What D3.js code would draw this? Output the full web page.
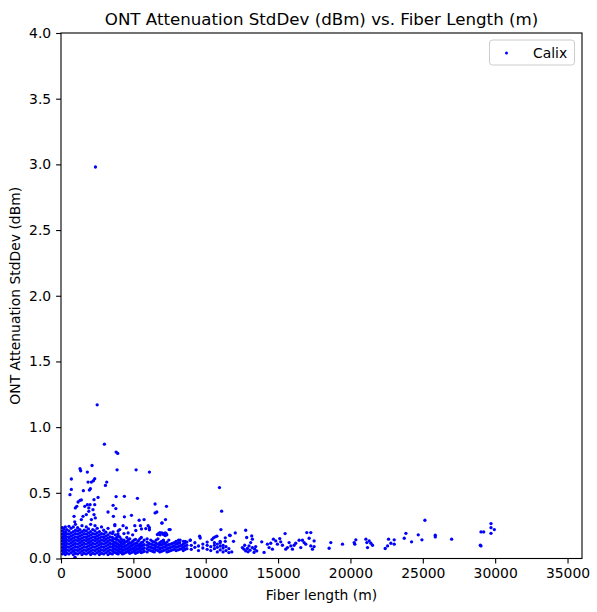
<!DOCTYPE html>
<html>
<head>
<meta charset="utf-8">
<script src="https://cdn.jsdelivr.net/npm/d3@7"></script>
<style>
  body { margin: 0; background: #fff; }
  text { font-family: "DejaVu Sans", sans-serif; fill: #000; }
</style>
</head>
<body>
<svg id="chart"></svg>
<script>
// Serie og akser
const seriesName = "Calix";
const xTicks = [0, 5000, 10000, 15000, 20000, 25000, 30000, 35000];
const yTicks = [0.0, 0.5, 1.0, 1.5, 2.0, 2.5, 3.0, 3.5, 4.0];

// Tæt klump ved korte fibre: [fiberlængde, [stddev-værdier]]
const denseColumns = [
  [100, [0.035,0.06,0.085,0.11,0.135,0.16,0.185,0.21,0.235]],
  [200, [0.045,0.07,0.095,0.12,0.145,0.17,0.195,0.225]],
  [300, [0.03,0.055,0.08,0.105,0.13,0.155,0.18,0.205,0.24]],
  [400, [0.04,0.065,0.09,0.115,0.14,0.165,0.19,0.22]],
  [550, [0.035,0.06,0.085,0.11,0.135,0.16,0.185,0.21,0.245]],
  [700, [0.045,0.07,0.095,0.12,0.145,0.17,0.195,0.23]],
  [850, [0.03,0.055,0.08,0.105,0.13,0.155,0.18,0.205,0.24]],
  [1000, [0.04,0.065,0.09,0.115,0.14,0.165,0.19,0.215,0.26]],
  [1150, [0.035,0.06,0.085,0.11,0.135,0.16,0.185,0.21,0.235]],
  [1300, [0.045,0.07,0.095,0.12,0.145,0.17,0.195,0.22]],
  [1450, [0.03,0.055,0.08,0.105,0.13,0.155,0.18,0.205,0.25]],
  [1600, [0.04,0.065,0.09,0.115,0.14,0.165,0.19,0.215]],
  [1750, [0.035,0.06,0.085,0.11,0.135,0.16,0.185,0.21,0.24]],
  [1900, [0.045,0.07,0.095,0.12,0.145,0.17,0.195,0.225]],
  [2050, [0.03,0.055,0.08,0.105,0.13,0.155,0.18,0.205,0.26]],
  [2200, [0.04,0.065,0.09,0.115,0.14,0.165,0.19,0.22]],
  [2350, [0.035,0.06,0.085,0.11,0.135,0.16,0.185,0.21,0.25]],
  [2500, [0.045,0.07,0.095,0.12,0.145,0.17,0.195,0.23]],
  [2650, [0.03,0.055,0.08,0.105,0.13,0.155,0.18,0.205]],
  [2800, [0.04,0.065,0.09,0.115,0.14,0.165,0.19,0.24]],
  [2950, [0.035,0.06,0.085,0.11,0.135,0.16,0.185,0.215]],
  [3100, [0.045,0.07,0.095,0.12,0.145,0.17,0.2]],
  [3250, [0.03,0.055,0.08,0.105,0.13,0.155,0.18,0.23]],
  [3400, [0.04,0.065,0.09,0.115,0.14,0.165,0.195]],
  [3550, [0.035,0.06,0.085,0.11,0.135,0.16,0.19]],
  [3650, [0.05,0.075,0.1,0.125,0.15]],
  [3750, [0.045,0.07,0.095,0.12,0.15,0.18]],
  [3850, [0.04,0.065,0.09,0.115,0.14,0.16]],
  [3950, [0.035,0.06,0.085,0.11,0.14,0.17,0.21]],
  [4050, [0.05,0.075,0.1,0.13,0.165]],
  [4150, [0.045,0.07,0.095,0.12,0.15]],
  [4250, [0.035,0.06,0.085,0.11,0.135]],
  [4350, [0.04,0.065,0.09,0.115,0.14,0.19]],
  [4450, [0.045,0.07,0.095,0.125]],
  [4550, [0.05,0.075,0.1,0.13,0.16]],
  [4650, [0.055,0.08,0.11,0.14]],
  [4750, [0.04,0.065,0.09,0.12,0.15]],
  [4850, [0.045,0.07,0.095,0.115]],
  [4950, [0.05,0.075,0.1,0.13,0.18]],
  [5050, [0.055,0.08,0.11,0.14]],
  [5150, [0.04,0.065,0.09,0.115,0.145]],
  [5250, [0.045,0.07,0.095,0.12]],
  [5350, [0.05,0.075,0.1,0.135]],
  [5450, [0.055,0.085,0.11,0.15]],
  [5550, [0.045,0.07,0.095,0.12,0.16]],
  [5650, [0.05,0.075,0.1,0.125]],
  [5750, [0.055,0.08,0.105,0.14]]
];

// Båndet ved mellemlange fibre
const bandColumns = [
  [5950, [0.05,0.075,0.1,0.125,0.15]],
  [6075, [0.065,0.09,0.115]],
  [6200, [0.06,0.085,0.11,0.14]],
  [6325, [0.055,0.08,0.105,0.13]],
  [6450, [0.05,0.075,0.1,0.125]],
  [6575, [0.065,0.09,0.115,0.14]],
  [6700, [0.06,0.085,0.11,0.15]],
  [6825, [0.05,0.075,0.1,0.12]],
  [6950, [0.055,0.08,0.105,0.13]],
  [7075, [0.06,0.085,0.11,0.14]],
  [7200, [0.065,0.09,0.115]],
  [7325, [0.05,0.075,0.1,0.125]],
  [7450, [0.055,0.08,0.105,0.14]],
  [7575, [0.06,0.085,0.11]],
  [7700, [0.065,0.09,0.115]],
  [7825, [0.07,0.095,0.12]],
  [7950, [0.06,0.085,0.11,0.13]],
  [8075, [0.065,0.09,0.115]],
  [8200, [0.07,0.095,0.12]],
  [8325, [0.075,0.1]],
  [8450, [0.06,0.085,0.11]],
  [8575, [0.07,0.095,0.12]],
  [8700, [0.075,0.1,0.125]],
  [9000, [0.07,0.1]],
  [9250, [0.085,0.12]],
  [9500, [0.06,0.095]],
  [9800, [0.08,0.11]],
  [10100, [0.07,0.1,0.125]],
  [10350, [0.06,0.09]],
  [10600, [0.075,0.1,0.12]],
  [10800, [0.05,0.085,0.11]],
  [11000, [0.065,0.095,0.12]],
  [11200, [0.05,0.08,0.1]],
  [11400, [0.06,0.09]],
  [11600, [0.045,0.075]],
  [11800, [0.05]]
];

// Enkeltpunkter over klumpen: [fiberlængde, stddev]
const scatteredPoints = [
  [2380, 2.98], [2500, 1.17], [3000, 0.87], [3810, 0.81], [3920, 0.80],
  [1315, 0.683], [1360, 0.668], [2145, 0.708], [1820, 0.658], [3875, 0.675],
  [5190, 0.675], [6110, 0.658], [715, 0.605], [2330, 0.607], [2240, 0.592],
  [2100, 0.582], [1870, 0.582], [3160, 0.582], [3070, 0.556], [715, 0.526],
  [620, 0.486], [2030, 0.531], [1960, 0.521], [1545, 0.516], [3810, 0.471],
  [4380, 0.473], [5280, 0.458], [2560, 0.465], [1315, 0.443], [1180, 0.43],
  [1405, 0.446], [1090, 0.397], [990, 0.385], [2280, 0.448], [2330, 0.41],
  [2010, 0.41], [2210, 0.372], [1920, 0.359], [3600, 0.405], [3790, 0.38],
  [3250, 0.354], [6500, 0.415], [6620, 0.354], [7290, 0.397], [1640, 0.397],
  [1820, 0.41], [1920, 0.385], [1750, 0.334], [1520, 0.321], [900, 0.321],
  [1405, 0.296], [950, 0.279], [2280, 0.334], [2370, 0.309], [2100, 0.296],
  [3620, 0.321], [4380, 0.317], [4290, 0.25], [3720, 0.25], [5100, 0.25],
  [5490, 0.25], [6020, 0.25], [4870, 0.329], [5740, 0.296], [5400, 0.291],
  [6500, 0.347], [6990, 0.271], [7220, 0.296], [5170, 0.213], [5560, 0.225],
  [5860, 0.228], [6110, 0.218], [6780, 0.187], [6660, 0.182], [7080, 0.182],
  [7270, 0.19], [6830, 0.197], [4060, 0.22], [4520, 0.233], [4640, 0.195],
  [3940, 0.187], [3720, 0.258], [3600, 0.203], [10950, 0.54], [11100, 0.36],
  [11050, 0.22], [7540, 0.22], [7200, 0.195], [6970, 0.195], [7310, 0.18],
  [7080, 0.13], [9580, 0.17], [10660, 0.165], [10770, 0.17], [11350, 0.157],
  [11650, 0.177], [12040, 0.195], [8120, 0.139], [8460, 0.131], [8580, 0.131],
  [8930, 0.139], [10430, 0.144], [10540, 0.157], [11000, 0.131], [11350, 0.131],
  [11920, 0.131], [6110, 0.234], [6730, 0.19], [6850, 0.18], [7080, 0.19],
  [7200, 0.175], [8230, 0.14], [8930, 0.14], [9620, 0.156], [11690, 0.175],
  [970, 0.01], [7470, 0.22], [6960, 0.27]
];

// Lange fibre (12 km og op)
const longFiberPoints = [
  [12763, 0.215], [12832, 0.16], [13178, 0.172], [13224, 0.147], [13109, 0.121],
  [12532, 0.083], [12647, 0.071], [12763, 0.058], [12878, 0.076], [12924, 0.051],
  [13063, 0.063], [13224, 0.083], [13339, 0.046], [13385, 0.071], [13523, 0.058],
  [12694, 0.101], [12993, 0.096], [13454, 0.091],
  [13870, 0.127], [14031, 0.046], [14262, 0.109], [14377, 0.083], [14493, 0.116],
  [14608, 0.071], [14677, 0.147], [14839, 0.134], [14954, 0.109], [15115, 0.152],
  [15184, 0.127], [15300, 0.101], [15484, 0.19], [15530, 0.071], [15646, 0.083],
  [15761, 0.121], [15876, 0.096], [15992, 0.071], [16107, 0.101], [16222, 0.116],
  [16453, 0.139], [16568, 0.083], [16683, 0.139], [16799, 0.121], [16914, 0.109],
  [16983, 0.197], [17145, 0.154], [17260, 0.197], [17260, 0.096], [17375, 0.071],
  [17490, 0.134], [17490, 0.091], [18528, 0.078], [18643, 0.121], [19450, 0.109],
  [20258, 0.121], [20373, 0.142], [20304, 0.109], [21065, 0.147], [21134, 0.121],
  [21180, 0.083], [21296, 0.134], [21411, 0.116], [21526, 0.101], [22402, 0.076],
  [22564, 0.096], [22633, 0.147], [22794, 0.116], [23025, 0.142], [23025, 0.109],
  [23717, 0.154], [23832, 0.192], [24224, 0.127], [24685, 0.18], [24939, 0.142],
  [25146, 0.291], [25861, 0.177], [25861, 0.164], [26991, 0.147], [28974, 0.101],
  [29020, 0.096], [29020, 0.202], [29205, 0.202], [29712, 0.266], [29712, 0.235],
  [29943, 0.22], [29712, 0.192]
];

// Saml alle punkter
const points = [];
denseColumns.concat(bandColumns).forEach(([len, vals]) => vals.forEach(v => points.push([len, v])));
scatteredPoints.concat(longFiberPoints).forEach(p => points.push(p));

// Tegneområde
const W = 597, H = 612;
const margin = { top: 33, right: 15, bottom: 53.5, left: 61 };
const width = W - margin.left - margin.right,
      height = H - margin.top - margin.bottom;

const svg = d3.select("#chart").attr("width", W).attr("height", H);
const g = svg.append("g").attr("transform", `translate(${margin.left},${margin.top})`);

const x = d3.scaleLinear().domain([0, 36000]).range([0, width]);
const y = d3.scaleLinear().domain([0, 4]).range([height, 0]);

// Punkter (klippet til plotområdet)
g.append("clipPath").attr("id", "clip")
  .append("rect").attr("width", width).attr("height", height);

g.append("g").attr("clip-path", "url(#clip)")
  .selectAll("circle")
  .data(points)
  .join("circle")
  .attr("cx", d => x(d[0]))
  .attr("cy", d => y(d[1]))
  .attr("r", 1.65)
  .attr("fill", "#0000ff");

// Akser
const xAxis = g.append("g").attr("transform", `translate(0,${height})`)
  .call(d3.axisBottom(x).tickValues(xTicks).tickFormat(d3.format("d")).tickSize(4.9).tickPadding(4.9));
const yAxis = g.append("g")
  .call(d3.axisLeft(y).tickValues(yTicks).tickFormat(d3.format(".1f")).tickSize(4.9).tickPadding(4.9));

[xAxis, yAxis].forEach(a => {
  a.selectAll("text").style("font-size", "13.9px").style("font-family", "DejaVu Sans");
  a.selectAll("line").attr("stroke", "#000").attr("stroke-width", 1.1);
  a.select(".domain").remove();
});

// Ramme
g.append("rect").attr("width", width).attr("height", height)
  .attr("fill", "none").attr("stroke", "#000").attr("stroke-width", 1.1);

// Titler
svg.append("text").attr("x", margin.left + width / 2).attr("y", 24.5)
  .attr("text-anchor", "middle").style("font-size", "16.67px")
  .text("ONT Attenuation StdDev (dBm) vs. Fiber Length (m)");

svg.append("text").attr("x", margin.left + width / 2).attr("y", 600)
  .attr("text-anchor", "middle").style("font-size", "13.9px")
  .text("Fiber length (m)");

svg.append("text")
  .attr("transform", `translate(20,${margin.top + height / 2}) rotate(-90)`)
  .attr("text-anchor", "middle").style("font-size", "13.9px")
  .text("ONT Attenuation StdDev (dBm)");

// Forklaring
const legend = svg.append("g").attr("transform", "translate(489.5,40)");
legend.append("rect").attr("width", 85).attr("height", 25).attr("rx", 3)
  .attr("fill", "#fff").attr("fill-opacity", 0.8)
  .attr("stroke", "#cccccc").attr("stroke-width", 1);
legend.append("circle").attr("cx", 17).attr("cy", 13).attr("r", 1.5).attr("fill", "#0000ff");
legend.append("text").attr("x", 43.5).attr("y", 18).style("font-size", "13.9px").text(seriesName);
</script>
</body>
</html>
